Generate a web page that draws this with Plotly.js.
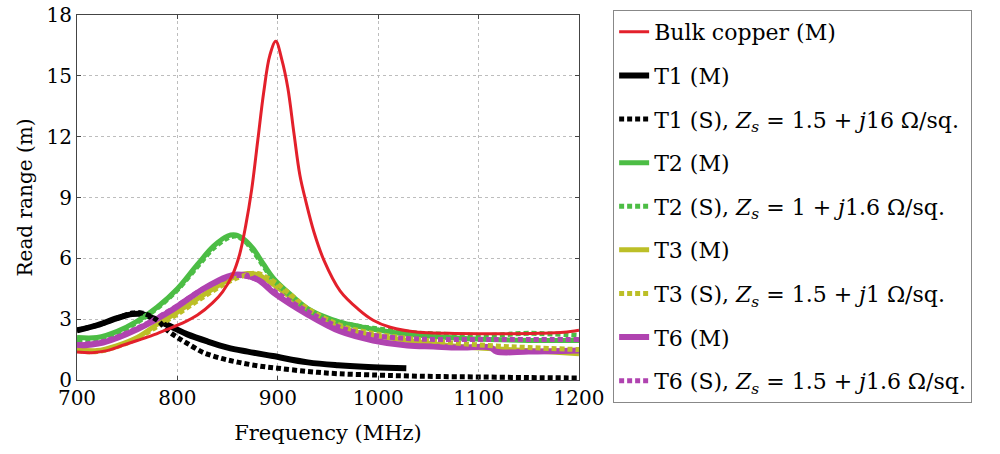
<!DOCTYPE html>
<html>
<head>
<meta charset="utf-8">
<script src="https://cdn.plot.ly/plotly-3.0.1.min.js"></script>
<style>html,body{margin:0;padding:0;background:#fff;}#chart{width:1000px;height:454px;}</style>
</head>
<body>
<div id="chart"></div>
<script>
// ---- Data ----
const bulkF = [700,715,730,745,760,775,790,805,820,835,845,855,862,868,874,880,886,892,898,904,910,916,922,928,936,946,962,980,995,1012,1040,1070,1100,1130,1160,1185,1200];
const bulkV = [1.38,1.35,1.45,1.7,1.95,2.2,2.5,2.8,3.2,3.8,4.35,5.2,6.2,7.6,9.4,11.8,14.2,16.0,16.7,15.8,14.4,12.2,10.1,8.8,7.3,5.9,4.4,3.5,2.95,2.6,2.35,2.3,2.28,2.28,2.3,2.35,2.45];

const t1mF = [700,720,740,755,765,780,795,810,830,850,870,895,930,960,995,1028];
const t1mV = [2.45,2.7,3.05,3.25,3.25,2.95,2.6,2.25,1.9,1.6,1.4,1.18,0.87,0.73,0.63,0.58];

const t1sF = [700,720,740,755,765,780,790,800,810,826,845,860,880,900,930,960,1000,1030,1060,1100,1150,1200];
const t1sV = [2.45,2.7,3.05,3.3,3.3,2.95,2.45,2.1,1.8,1.35,1.05,0.88,0.7,0.58,0.42,0.31,0.24,0.2,0.17,0.15,0.12,0.1];

const t2F = [700,720,740,760,780,800,820,836,850,858,866,875,886,896,913,929,945,962,980,995,1030,1070,1110,1150,1200];
const t2mV = [2.1,2.1,2.4,2.9,3.6,4.5,5.7,6.6,7.1,7.15,6.95,6.5,5.7,5.0,4.2,3.55,3.15,2.85,2.65,2.5,2.25,2.1,2.0,1.95,1.95];
const t2sV = [2.0,2.05,2.35,2.85,3.55,4.45,5.6,6.5,7.0,7.1,6.9,6.4,5.6,4.9,4.15,3.5,3.1,2.85,2.65,2.55,2.35,2.25,2.2,2.3,2.2];

const t3F = [700,720,740,760,780,800,826,853,870,880,896,913,929,962,995,1030,1070,1110,1150,1200];
const t3mV = [1.5,1.45,1.7,2.1,2.75,3.35,4.2,5.0,5.25,5.2,4.7,4.05,3.4,2.6,2.2,1.95,1.7,1.55,1.45,1.3];
const t3sV = [1.45,1.4,1.65,2.05,2.65,3.25,4.1,4.9,5.2,5.25,4.85,4.2,3.55,2.7,2.3,2.05,1.85,1.7,1.6,1.5];

const t6F = [700,726,760,793,826,850,860,880,896,929,962,995,1029,1055,1080,1112,1118,1150,1200];
const t6mV = [1.7,1.85,2.5,3.4,4.5,5.1,5.2,4.95,4.3,3.25,2.4,1.95,1.7,1.65,1.6,1.6,1.4,1.4,1.45];
const t6sV = [1.75,1.9,2.55,3.45,4.5,5.05,5.15,4.95,4.4,3.4,2.6,2.2,2.05,2.0,2.0,2.0,2.0,2.0,2.0];

const names = [
  "Bulk copper (M)",
  "T1 (M)",
  "T1 (S), <i>Z</i><sub><i>s</i></sub> = 1.5 + <i>j</i>16 Ω/sq.",
  "T2 (M)",
  "T2 (S), <i>Z</i><sub><i>s</i></sub> = 1 + <i>j</i>1.6 Ω/sq.",
  "T3 (M)",
  "T3 (S), <i>Z</i><sub><i>s</i></sub> = 1.5 + <i>j</i>1 Ω/sq.",
  "T6 (M)",
  "T6 (S), <i>Z</i><sub><i>s</i></sub> = 1.5 + <i>j</i>1.6 Ω/sq."
];
const xTicks = [700,800,900,1000,1100,1200];
const yTicks = [0,3,6,9,12,15,18];

// ---- Styles ----
const RED = "#e3202b", BLACK = "#000000", GREEN = "#4cbd45", OLIVE = "#bcbf27", PURPLE = "#b043b0";
const DOT = "5px,3px";

function tr(x, y, name, color, width, dash, rank) {
  return {
    x: x, y: y, name: name, type: "scatter", mode: "lines",
    line: {color: color, width: width, dash: dash || "solid", shape: "spline", smoothing: 1},
    legendrank: rank, legendgroup: "g" + rank, hoverinfo: "skip"
  };
}

const data = [
  tr(t1mF, t1mV, names[1], BLACK, 6, "solid", 2),
  tr(t2F, t2mV, names[3], GREEN, 5, "solid", 4),
  tr(t3F, t3mV, names[5], OLIVE, 5, "solid", 6),
  tr(t6F, t6mV, names[7], PURPLE, 6, "solid", 8),
  tr(t2F, t2sV, names[4], GREEN, 5, DOT, 5),
  tr(t3F, t3sV, names[6], OLIVE, 5, DOT, 7),
  tr(t6F, t6sV, names[8], PURPLE, 5, DOT, 9),
  tr(t1sF, t1sV, names[2], BLACK, 5, DOT, 3),
  tr(bulkF, bulkV, names[0], RED, 3, "solid", 1)
];

const FONT = "DejaVu Serif";
const layout = {
  width: 1000, height: 454,
  margin: {l: 77, r: 421, t: 10, b: 74},
  paper_bgcolor: "#fff", plot_bgcolor: "#fff",
  font: {family: FONT, size: 20, color: "#000"},
  showlegend: true,
  legend: {
    x: 1.068, xanchor: "left", y: 1.0135, yanchor: "top",
    bgcolor: "#fff", bordercolor: "#888", borderwidth: 1,
    font: {family: FONT, size: 22, color: "#000"},
    tracegroupgap: 12, traceorder: "grouped", maxheight: 454
  },
  xaxis: {
    range: [700, 1200], tickvals: xTicks, ticktext: xTicks.map(String),
    showgrid: true, gridcolor: "#bdbdbd", griddash: "dot", gridwidth: 1,
    zeroline: false, showline: true, linecolor: "#444", linewidth: 1, mirror: "ticks",
    ticks: "inside", ticklen: 4, tickcolor: "#444", automargin: true,
    tickfont: {family: FONT, size: 20, color: "#000"},
    title: {text: "Frequency (MHz)", font: {family: FONT, size: 21, color: "#000"}, standoff: 16}
  },
  yaxis: {
    range: [0, 18], tickvals: yTicks, ticktext: yTicks.map(String),
    showgrid: true, gridcolor: "#bdbdbd", griddash: "dot", gridwidth: 1,
    zeroline: false, showline: true, linecolor: "#444", linewidth: 1, mirror: "ticks",
    ticks: "inside", ticklen: 4, tickcolor: "#444",
    tickfont: {family: FONT, size: 20, color: "#000"},
    title: {text: "Read range (m)", font: {family: FONT, size: 20, color: "#000"}, standoff: 8}
  }
};

Plotly.newPlot("chart", data, layout, {displayModeBar: false, staticPlot: true});
</script>
</body>
</html>
